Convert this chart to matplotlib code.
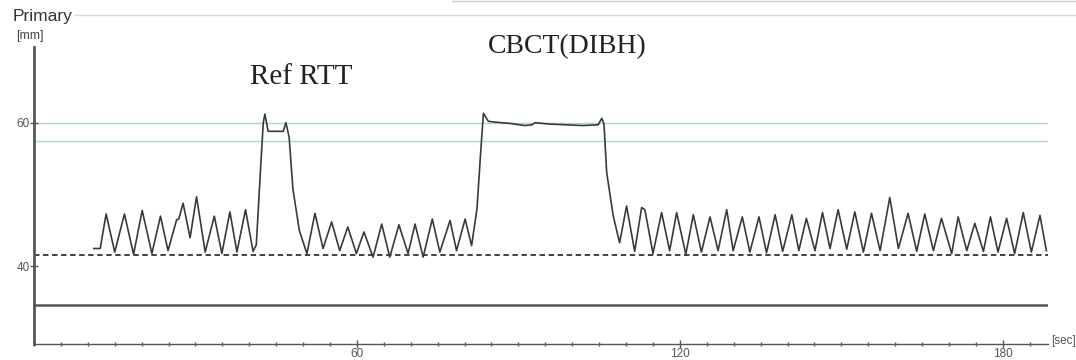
import numpy as np
import matplotlib.pyplot as plt

plt.rcParams['font.family'] = ['Liberation Sans', 'DejaVu Sans']

# breathing trace: (time [sec], amplitude [mm])
t = [11.1, 12.3, 13.4, 15.0, 16.8, 18.5, 20.1, 21.9, 23.5, 24.9, 26.5, 26.9, 27.7, 29.0,
     30.2, 31.8, 33.5, 34.9, 36.4, 37.7, 39.3, 40.7, 41.3, 42.2, 42.6, 42.9, 43.5, 46.3,
     46.8, 47.4, 48.1, 49.3, 50.7, 52.2, 53.7, 55.3, 56.8, 58.3, 59.9, 61.3, 63.0, 64.6,
     66.1, 67.8, 69.5, 70.8, 72.3, 74.0, 75.4, 77.3, 78.5, 80.1, 81.3, 82.3, 83.0, 83.5,
     84.4, 85.3, 88.4, 91.2, 92.5, 93.1, 95.9, 99.0, 102.0, 104.8, 105.5, 105.9, 106.4,
     107.6, 108.8, 110.1, 111.6, 112.9, 113.5, 115.0, 116.6, 118.1, 119.4, 121.1, 122.5,
     124.0, 125.6, 127.1, 128.7, 129.9, 131.6, 133.0, 134.7, 136.1, 137.7, 139.1, 140.8,
     142.1, 143.5, 145.1, 146.5, 147.9, 149.4, 151.0, 152.5, 154.1, 155.6, 157.2, 159.0,
     160.6, 162.4, 164.0, 165.5, 167.1, 168.6, 170.5, 171.7, 173.3, 174.8, 176.4, 177.7,
     179.1, 180.7, 182.2, 183.8, 185.3, 186.9, 188.1]
amp = [42.5, 42.5, 47.3, 42.0, 47.3, 41.7, 47.8, 41.8, 47.0, 42.2, 46.5, 46.6, 48.8, 44.0,
       49.7, 42.0, 47.0, 41.8, 47.6, 42.0, 47.9, 42.1, 43.0, 55.0, 60.0, 61.2, 58.8, 58.8,
       60.0, 58.0, 50.8, 45.0, 41.8, 47.4, 42.5, 46.2, 42.2, 45.5, 41.8, 44.8, 41.3, 45.9,
       41.3, 45.8, 41.8, 45.9, 41.3, 46.6, 42.0, 46.4, 42.2, 46.6, 42.9, 48.0, 56.0, 61.3,
       60.2, 60.1, 59.9, 59.6, 59.7, 60.0, 59.8, 59.7, 59.6, 59.7, 60.6, 59.8, 53.1,
       47.1, 43.3, 48.4, 42.1, 48.2, 47.9, 41.8, 47.5, 42.2, 47.5, 41.7, 47.2,
       42.0, 46.9, 42.2, 47.9, 42.2, 46.9, 42.0, 46.9, 41.9, 47.2, 42.1, 47.2,
       42.2, 46.7, 42.2, 47.5, 42.5, 47.9, 42.4, 47.6, 42.0, 47.4, 42.2, 49.6,
       42.5, 47.4, 42.1, 47.3, 42.2, 46.7, 41.8, 46.9, 42.2, 46.0, 42.1, 46.9,
       42.0, 46.7, 41.8, 47.5, 42.0, 47.1, 42.2]

gate_upper = 60.0
gate_lower = 57.4
baseline = 41.6
lower_ref = 34.6

fig = plt.figure(figsize=(10.76, 3.6), dpi=100)
ax = fig.add_axes([0.0316, 0.044, 0.9424, 0.825])

ax.axhline(gate_upper, color='#a9dcb6', lw=1.0, zorder=1)
ax.axhline(gate_lower, color='#a9dcb6', lw=1.0, zorder=1)
ax.axhline(baseline, color='#333333', lw=1.3, ls=(0, (3, 2)), zorder=2)
ax.axhline(lower_ref, color='#555555', lw=1.8, zorder=2)
ax.plot(t, amp, color='#3a3a3a', lw=1.2, zorder=3)

ax.set_xlim(0, 188.4)
ax.set_ylim(29.2, 70.5)
ax.set_xticks([60, 120, 180])
ax.set_xticks(np.arange(0, 188, 5), minor=True)
ax.set_yticks([40, 60])
for s in ['top', 'right']:
    ax.spines[s].set_visible(False)
ax.spines['left'].set_color('#555555')
ax.spines['left'].set_linewidth(2.0)
ax.spines['bottom'].set_color('#555555')
ax.spines['bottom'].set_linewidth(1.0)
ax.tick_params(axis='both', which='major', direction='inout', length=6, width=1,
               color='#555555', labelcolor='#555555', labelsize=8.5, pad=0)
ax.tick_params(axis='x', which='minor', direction='inout', length=3, width=1,
               color='#555555')

ax.text(40.1, 66.4, 'Ref RTT', family='Liberation Serif', fontsize=21,
        color='#222222', va='center', ha='left', clip_on=False)
ax.text(84.3, 70.6, 'CBCT(DIBH)', family='Liberation Serif', fontsize=20,
        color='#222222', va='center', ha='left', clip_on=False)

fig.text(0.012, 0.955, 'Primary', fontsize=12.5, color='#333333', va='center')
fig.text(0.015, 0.900, '[mm]', fontsize=9, color='#444444', va='center')
fig.text(0.977, 0.052, '[sec]', fontsize=8.5, color='#555555', va='center')
fig.add_artist(plt.Line2D([0.07, 1.0], [0.958, 0.958], color='#d8d8d8', lw=1.0))
fig.add_artist(plt.Line2D([0.42, 1.0], [0.996, 0.996], color='#cccccc', lw=1.0))

fig.savefig('out.png', dpi=100)
